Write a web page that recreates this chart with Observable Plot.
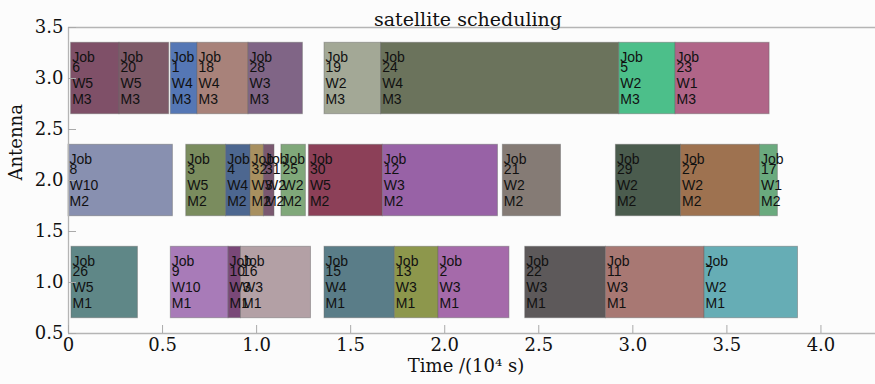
<!DOCTYPE html>
<html><head><meta charset="utf-8">
<script src="https://cdn.jsdelivr.net/npm/d3@7"></script>
<script src="https://cdn.jsdelivr.net/npm/@observablehq/plot@0.6"></script>
<style>body{margin:0;background:#fcfcfc}</style>
</head><body><div id="chart"></div>
<script>
// Job schedule data (time in 10^4 s)
const jobIds   = [6, 20, 1, 18, 28, 19, 24, 5, 23,
                  8, 3, 4, 32, 31, 25, 30, 12, 21, 29, 27, 17,
                  26, 9, 10, 16, 15, 13, 2, 22, 11, 7];
const antennas = [3, 3, 3, 3, 3, 3, 3, 3, 3,
                  2, 2, 2, 2, 2, 2, 2, 2, 2, 2, 2, 2,
                  1, 1, 1, 1, 1, 1, 1, 1, 1, 1];
const starts   = [0.014, 0.271, 0.544, 0.686, 0.957, 1.361, 1.662, 2.928, 3.227,
                  0.000, 0.626, 0.838, 0.968, 1.039, 1.132, 1.278, 1.671, 2.309, 2.910, 3.256, 3.676,
                  0.016, 0.544, 0.851, 0.917, 1.361, 1.735, 1.967, 2.428, 2.857, 3.381];
const ends     = [0.271, 0.535, 0.686, 0.957, 1.246, 1.662, 2.928, 3.227, 3.727,
                  0.555, 0.838, 0.968, 1.039, 1.095, 1.262, 1.671, 2.283, 2.618, 3.256, 3.676, 3.771,
                  0.369, 0.851, 0.917, 1.289, 1.735, 1.967, 2.344, 2.857, 3.381, 3.878];
const windows  = ["W5", "W5", "W4", "W4", "W3", "W2", "W4", "W2", "W1",
                  "W10", "W5", "W4", "W3", "W2", "W2", "W5", "W3", "W2", "W2", "W2", "W1",
                  "W5", "W10", "W3", "W3", "W4", "W3", "W3", "W3", "W3", "W2"];
const machines = ["M3", "M3", "M3", "M3", "M3", "M3", "M3", "M3", "M3",
                  "M2", "M2", "M2", "M2", "M2", "M2", "M2", "M2", "M2", "M2", "M2", "M2",
                  "M1", "M1", "M1", "M1", "M1", "M1", "M1", "M1", "M1", "M1"];
const colors   = ["#7f5068", "#7f5b69", "#5577b5", "#a8827a", "#806586", "#a3a896", "#6b735c", "#4cbf8a", "#b06588",
                  "#8890b0", "#7a8c5e", "#4d6790", "#a89060", "#7a5870", "#80a87a", "#8c4058", "#9862a6", "#857b75", "#4b5c4e", "#9e7250", "#6aaa7e",
                  "#5f8787", "#a87bb8", "#7a4878", "#b3a0a5", "#5a7d88", "#8d974c", "#a56aaa", "#5d595a", "#a87873", "#66adb5"];
const xTicks = [0, 0.5, 1.0, 1.5, 2.0, 2.5, 3.0, 3.5, 4.0];
const yTicks = [0.5, 1.0, 1.5, 2.0, 2.5, 3.0, 3.5];
const barHalf = 0.35;

const rows = jobIds.map((id, i) => ({
  id, antenna: antennas[i], start: starts[i], end: ends[i],
  win: windows[i], mach: machines[i], color: colors[i]
}));

const lblFont = "Liberation Sans, Arial, sans-serif";
const txt = (field, dy) => Plot.text(rows, {
  x: "start", y: "antenna", text: field, dy, dx: 1,
  textAnchor: "start", fontFamily: lblFont, fontSize: 14, fill: "#111"
});

const chart = Plot.plot({
  width: 875, height: 384,
  marginLeft: 68, marginRight: 0, marginTop: 27, marginBottom: 51,
  x: {domain: [0, 4.29], label: null},
  y: {domain: [0.5, 3.5], label: null},
  style: {background: "#fcfcfc", fontFamily: "DejaVu Serif, serif", fontSize: "18px", color: "#111"},
  marks: [
    Plot.rect(rows, {
      x1: "start", x2: "end",
      y1: d => d.antenna - barHalf, y2: d => d.antenna + barHalf,
      fill: "color", stroke: "#666", strokeOpacity: 0.45, strokeWidth: 1
    }),
    txt(d => "Job", -21),
    txt(d => String(d.id), -11),
    txt("win", 5),
    txt("mach", 21),
    Plot.ruleY([0.5, 3.5], {stroke: "#b5b5b5", strokeWidth: 1.3}),
    Plot.ruleX([0], {stroke: "#b5b5b5", strokeWidth: 1.3}),
    Plot.axisX(xTicks, {anchor: "bottom", tickSize: -8, stroke: "#aaa", text: null, label: null}),
    Plot.axisX(xTicks, {anchor: "bottom", tickSize: 0, tickPadding: 5, fontSize: 18,
      tickFormat: d => d === 0 ? "0" : d.toFixed(1), label: null}),
    Plot.axisY(yTicks, {anchor: "left", tickSize: -8, stroke: "#aaa", text: null, label: null}),
    Plot.axisY(yTicks, {anchor: "left", tickSize: 0, tickPadding: 5, fontSize: 18,
      tickFormat: d => d.toFixed(1), label: null}),
    Plot.text(["satellite scheduling"], {frameAnchor: "top", dy: -15, fontSize: 19, fontFamily: "DejaVu Serif, serif", fill: "#111", dx: -4}),
    Plot.text(["Time /(10⁴ s)"], {frameAnchor: "bottom", dy: 38, fontSize: 18, fontFamily: "DejaVu Serif, serif", fill: "#111", dx: -6}),
    Plot.text(["Antenna"], {frameAnchor: "left", dx: -52, dy: 0, rotate: -90, fontSize: 18, fontFamily: "DejaVu Serif, serif", fill: "#111"})
  ]
});
document.getElementById("chart").appendChild(chart);
</script>
</body></html>
